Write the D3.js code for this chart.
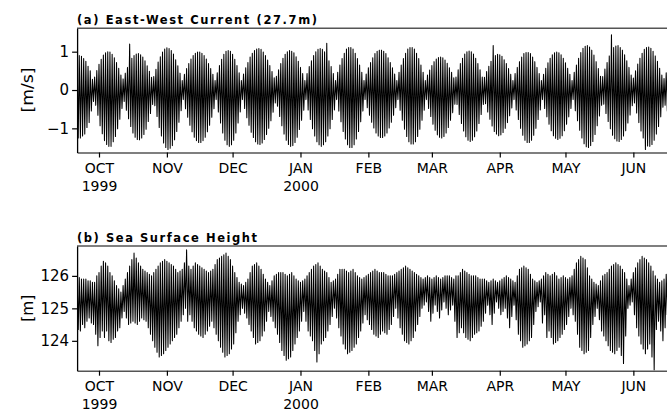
<!DOCTYPE html>
<html><head><meta charset="utf-8">
<script src="https://cdn.jsdelivr.net/npm/d3@7"></script>
<style>
html,body{margin:0;padding:0;background:#fff;}
svg{display:block;}
text{font-family:"DejaVu Sans",sans-serif;fill:#000;}
</style></head>
<body><svg id="c" width="667" height="412"></svg>
<script>
// ---- data: two tidal extremes per day, starting 21 Sep 1999 ----
// "...Main": extreme read for the day (alternating peak / trough day by day)
// "...Other": the opposite extreme of the same day
const startDay = "1999-09-21";
const endDay = "2000-06-17";
const ewMain = [
0.9,-1.25,0.88,-1.15,0.75,-0.85,0.5,-0.3,
0.34,-0.66,0.67,-1.14,0.91,-1.42,1.0,-1.47,0.93,-1.21,0.72,-0.76,0.39,
-0.30,0.44,-0.75,1.2,-1.12,0.9,-1.29,0.95,-1.25,0.86,-1.02,0.63,-0.61,0.33,
-0.41,0.54,-0.98,0.87,-1.38,1.07,-1.55,1.08,-1.45,0.94,-1.08,0.63,-0.54,
0.25,-0.49,0.56,-0.92,0.81,-1.23,0.96,-1.37,0.99,-1.32,0.90,-1.09,0.69,-0.71,0.41,
-0.25,0.45,-0.86,0.80,-1.31,1.01,-1.47,1.01,-1.31,0.80,-0.86,0.45,
-0.25,0.42,-0.72,0.72,-1.10,0.96,-1.35,1.07,-1.42,1.06,-1.29,0.90,-1.0,0.64,-0.58,0.32,
-0.42,0.53,-0.93,0.83,-1.31,1.0,-1.47,1.01,-1.37,0.87,-1.03,0.59,-0.53,
0.25,-0.52,0.61,-1.01,0.90,-1.35,1.06,-1.47,1.06,-1.35,1.22,-1.01,0.61,-0.52,
0.25,-0.55,0.65,-1.08,0.96,-1.43,1.11,-1.50,1.07,-1.28,0.82,-0.83,0.46,
-0.25,0.42,-0.66,0.72,-0.99,0.95,-1.20,1.04,-1.24,1.01,-1.12,0.84,-0.84,0.58,-0.46,
0.25,-0.53,0.65,-1.02,0.96,-1.35,1.11,-1.41,1.07,-1.21,0.82,-0.79,0.46,
-0.25,0.39,-0.69,0.64,-1.05,0.81,-1.23,0.86,-1.21,0.78,-0.98,0.58,-0.59,0.32,
-0.38,0.53,-0.87,0.83,-1.22,1.0,-1.34,1.0,-1.22,0.83,-0.87,0.53,-0.38,
0.33,-0.57,0.62,-0.94,1.16,-1.15,0.93,-1.17,0.88,-1.0,0.69,-0.67,0.41,
-0.25,0.43,-0.77,0.74,-1.18,0.95,-1.37,0.98,-1.31,0.86,-1.0,0.59,-0.52,
0.25,-0.48,0.57,-0.89,0.83,-1.19,0.97,-1.29,0.97,-1.19,0.83,-0.89,0.57,-0.48,
0.25,-0.54,0.65,-1.05,0.98,-1.40,1.14,-1.50,1.12,-1.34,0.91,-0.93,0.56,-0.40,
0.35,-0.61,0.72,-1.01,1.44,-1.27,1.15,-1.34,1.11,-1.20,0.92,-0.86,0.59,-0.41,
0.31,-0.60,0.68,-1.07,0.96,-1.55,1.11,-1.47,1.09,-1.31,0.89,-0.95,0.57,-0.45,
0.3,-0.55,0.6,-0.9];
const ewOther = [
-1.25,0.9,-1.2,0.82,-0.98,0.62,-0.55,0.28,
-0.40,0.51,-0.93,0.80,-1.32,0.97,-1.47,0.99,-1.35,0.84,-1.01,0.57,-0.48,
0.29,-0.53,0.59,-0.95,0.83,-1.23,0.94,-1.30,0.92,-1.16,0.76,-0.82,0.49,-0.38,
0.35,-0.69,0.73,-1.20,0.99,-1.50,1.10,-1.52,1.03,-1.30,0.79,-0.84,0.44,
-0.25,0.41,-0.71,0.69,-1.09,0.90,-1.32,0.99,-1.37,0.96,-1.23,0.81,-0.92,0.56,-0.49,
0.25,-0.57,0.64,-1.12,0.93,-1.43,1.03,-1.43,0.93,-1.12,0.64,-0.57,
0.25,-0.48,0.58,-0.92,0.86,-1.24,1.03,-1.41,1.08,-1.38,0.99,-1.16,0.78,-0.80,0.48,-0.34,
0.36,-0.69,0.69,-1.15,0.93,-1.42,1.03,-1.45,0.97,-1.23,0.75,-0.79,0.43,
-0.25,0.43,-0.77,0.76,-1.20,1.0,-1.43,1.08,-1.43,1.0,-1.20,0.76,-0.77,0.43,
-0.25,0.46,-0.83,0.82,-1.28,1.07,-1.50,1.11,-1.43,0.96,-1.08,0.65,-0.55,
0.25,-0.46,0.58,-0.84,0.84,-1.12,1.01,-1.24,1.04,-1.20,0.95,-0.99,0.72,-0.66,0.42,
-0.25,0.46,-0.79,0.82,-1.21,1.07,-1.41,1.11,-1.35,0.96,-1.02,0.65,-0.53,
0.25,-0.48,0.52,-0.89,0.74,-1.17,0.85,-1.25,0.84,-1.12,0.70,-0.79,0.46,-0.37,
0.34,-0.64,0.69,-1.07,0.94,-1.31,1.02,-1.31,0.94,-1.07,0.69,-0.64,0.34,
-0.36,0.48,-0.76,0.75,-1.08,0.90,-1.19,0.92,-1.11,0.79,-0.85,0.56,-0.47,
0.25,-0.52,0.59,-1.0,0.86,-1.31,0.98,-1.37,0.95,-1.18,0.74,-0.77,0.43,
-0.25,0.41,-0.70,0.71,-1.06,0.92,-1.26,0.99,-1.26,0.92,-1.06,0.71,-0.70,0.41,
-0.25,0.46,-0.80,0.83,-1.25,1.09,-1.48,1.16,-1.45,1.04,-1.16,0.74,-0.68,0.36,
-0.37,0.55,-0.82,0.89,-1.18,1.11,-1.33,1.16,-1.29,1.04,-1.06,0.76,-0.65,0.39,
-0.34,0.50,-0.85,0.83,-1.25,1.06,-1.46,1.12,-1.42,1.01,-1.15,0.75,-0.70,0.39,
-0.4,0.45,-0.75,0.8];
const sshMain = [
126.0,124.3,125.9,124.4,125.9,124.7,125.85,124.5,125.8,
123.85,126.1,124.3,126.45,124.3,
126.3,123.95,126.0,124.1,125.7,124.4,125.5,124.9,
125.9,124.5,126.3,124.6,126.7,124.5,126.4,124.7,126.2,124.6,126.1,
124.2,126.0,123.8,
126.2,123.5,126.4,123.6,126.5,123.8,126.4,124.0,126.3,124.2,126.1,
124.6,126.2,125.0,126.8,124.8,126.2,
124.4,126.4,124.2,126.3,124.1,126.2,124.3,126.1,124.6,126.2,
124.2,126.5,123.8,126.6,123.5,126.7,123.6,126.5,123.9,
126.1,124.6,125.8,125.0,125.7,124.7,125.9,
124.3,126.3,123.9,126.4,124.0,126.2,124.3,
125.9,124.9,125.7,124.6,
126.0,124.2,126.1,123.7,126.1,123.4,126.0,123.5,126.1,123.9,125.9,124.3,
125.8,124.9,125.9,
124.3,126.1,124.0,126.3,123.35,126.4,123.9,126.2,124.1,126.1,124.5,
125.8,125.0,125.9,
124.4,126.2,123.9,126.2,123.6,126.1,123.7,126.2,123.9,126.0,124.3,
125.9,124.8,126.0,
124.5,126.1,124.2,126.2,124.1,126.1,124.3,126.1,124.2,126.0,124.5,
126.0,125.0,126.1,
124.4,126.2,124.0,126.3,123.9,126.2,124.1,126.1,
124.5,126.0,125.0,125.9,125.2,126.0,124.6,125.9,125.1,126.0,124.7,125.9,125.2,126.0,124.8,
126.0,125.1,125.9,124.1,126.0,
124.4,126.2,124.1,126.1,124.0,126.0,124.2,126.0,124.3,125.9,124.6,
125.9,125.1,125.8,124.5,125.9,125.2,125.8,124.8,125.9,125.0,126.0,124.4,125.9,125.1,125.8,
124.2,126.2,123.8,126.3,123.9,126.2,124.1,
125.9,124.9,125.8,125.2,125.9,124.8,
126.1,124.3,126.0,123.9,126.1,124.0,125.9,124.2,126.0,124.5,
125.9,125.0,126.0,124.6,
126.4,123.8,126.6,123.6,126.5,123.7,
126.0,124.5,125.8,125.0,125.7,
124.3,126.0,124.0,126.1,123.7,126.3,123.6,126.4,123.8,126.3,123.3,126.1,
125.0,125.7,125.2,
126.1,124.4,126.4,123.9,126.6,123.6,126.5,123.9,126.3,123.1,
126.0,124.6,125.8,124.0,125.9,124.8,126.2,124.5];
const sshOther = [
124.35,125.95,124.5,125.9,124.6,125.85,124.55,125.8,124.2,
126.0,124.1,126.3,124.1,126.4,
124.0,126.1,124.05,125.85,124.3,125.6,124.7,125.7,
124.7,126.1,124.55,126.5,124.55,126.55,124.6,126.3,124.65,126.15,124.4,
126.05,124.0,126.1,
123.65,126.3,123.55,126.45,123.7,126.45,123.9,126.35,124.1,126.2,124.4,
126.15,124.8,126.4,124.6,126.3,124.6,
126.3,124.3,126.35,124.15,126.25,124.2,126.15,124.45,126.15,124.4,
126.35,124.0,126.55,123.65,126.65,123.55,126.6,123.75,126.3,
124.25,125.95,124.8,125.75,124.85,125.8,124.5,
126.1,124.1,126.35,123.95,126.3,124.15,126.05,
124.6,125.8,124.75,125.85,
124.4,126.05,123.95,126.1,123.55,126.05,123.45,126.05,123.7,126.0,124.1,125.85,
124.6,125.85,124.6,
126.0,124.15,126.2,123.7,126.35,123.6,126.3,124.0,126.15,124.3,125.95,
124.75,125.85,124.7,
126.05,124.15,126.2,123.75,126.15,123.65,126.15,123.8,126.1,124.1,125.95,
124.55,125.95,124.65,
126.05,124.35,126.15,124.15,126.15,124.2,126.1,124.25,126.05,124.35,126.0,
124.75,126.05,124.7,
126.15,124.2,126.25,123.95,126.25,124.0,126.15,124.3,
126.05,124.75,125.95,125.1,125.95,124.9,125.95,124.85,125.95,124.9,125.95,124.95,125.95,125.0,126.0,
124.95,125.95,124.6,126.0,124.25,
126.1,124.25,126.15,124.05,126.05,124.1,126.0,124.25,125.95,124.45,125.9,
124.85,125.85,124.8,125.85,124.85,125.85,125.0,125.85,124.9,125.95,124.7,125.95,124.75,125.85,124.65,
126.0,124.0,126.25,123.85,126.25,124.0,126.05,
124.5,125.85,125.05,125.85,124.55,126.0,
124.1,126.05,124.1,126.05,123.95,126.0,124.1,125.95,124.35,125.95,
124.75,125.95,124.8,126.2,
124.2,126.5,123.7,126.55,123.65,126.25,
124.1,125.9,124.75,125.75,124.65,
125.85,124.15,126.05,123.85,126.2,123.65,126.35,123.7,126.35,123.55,126.2,124.15,
125.9,125.1,125.9,
124.8,126.25,124.15,126.5,123.75,126.55,123.75,126.4,123.5,126.15,
124.35,125.9,124.3,125.85,124.4,126.05,124.65,126.1];
const monthTicks = ["1999-10-01","1999-11-01","1999-12-01","2000-01-01","2000-02-01","2000-03-01","2000-04-01","2000-05-01","2000-06-01"];
const monthLabels = ["OCT","NOV","DEC","JAN","FEB","MAR","APR","MAY","JUN"];
const yearLabels = ["1999","","","2000","","","","",""];
const ticksA = [-1,0,1];
const ticksB = [124,125,126];
const titles = ["(a) East-West Current (27.7m)","(b) Sea Surface Height"];
const units = ["[m/s]","[m]"];

// ---- drawing ----
const svg = d3.select("#c");
const parse = d3.utcParse("%Y-%m-%d");
const t0 = parse(startDay);
const x = d3.scaleUtc().domain([t0, parse(endDay)]).range([77.1, 668.4]);
const dayAt = (i, frac) => new Date(t0.getTime() + (i + frac) * 864e5);

// merge the two daily extremes: high first, low half a day later
function series(main, other) {
  const pts = [];
  main.forEach((v, i) => {
    const w = other[i];
    pts.push({t: dayAt(i, 0), v: Math.max(v, w)});
    pts.push({t: dayAt(i, 0.5), v: Math.min(v, w)});
  });
  return pts;
}

const panels = [
  {data: series(ewMain, ewOther), domain:[-1.63,1.61], top:28.3, bottom:152.5, ticks:ticksA,
   fmt: v => v<0 ? "\u2212"+Math.abs(v) : String(v), title:titles[0], unit:units[0], unitLen:45, tlen:240},
  {data: series(sshMain, sshOther), domain:[123.08,126.92], top:246, bottom:370.7, ticks:ticksB,
   fmt: v => String(v), title:titles[1], unit:units[1], unitLen:27, tlen:180}
];

panels.forEach((p, k) => {
  const y = d3.scaleLinear().domain(p.domain).range([p.bottom, p.top]);
  const g = svg.append("g");
  const clipId = "clip"+k;
  svg.append("clipPath").attr("id", clipId).append("rect")
    .attr("x", 77).attr("y", p.top).attr("width", 600).attr("height", p.bottom - p.top);

  const line = d3.line().x(d => x(d.t)).y(d => y(d.v));
  g.append("path").datum(p.data).attr("clip-path", `url(#${clipId})`)
    .attr("d", line).attr("fill","none").attr("stroke","#000")
    .attr("stroke-width", 1.05).attr("stroke-linejoin","round");

  g.append("line").attr("x1",77).attr("x2",668).attr("y1",p.top).attr("y2",p.top)
    .attr("stroke","#555").attr("stroke-width",1.6);

  const xa = d3.axisBottom(x).tickValues(monthTicks.map(parse)).tickSize(5).tickSizeOuter(0).tickFormat("");
  const gx = g.append("g").attr("transform",`translate(0,${p.bottom})`).call(xa);
  gx.select(".domain").attr("stroke","#555").attr("stroke-width",1.6);
  gx.selectAll(".tick line").attr("stroke","#000").attr("stroke-width",1.2);
  gx.selectAll(".tick").each(function(d,i){
    const t = d3.select(this).append("text").attr("text-anchor","middle")
      .style("font-size","14px");
    t.append("tspan").attr("x",0).attr("y",20.5).text(monthLabels[i]);
    if (yearLabels[i]) t.append("tspan").attr("x",0).attr("y",38.5).text(yearLabels[i]);
  });

  const ya = d3.axisLeft(y).tickValues(p.ticks).tickSize(5).tickSizeOuter(0).tickPadding(3).tickFormat(p.fmt);
  const gy = g.append("g").attr("transform","translate(77.1,0)").call(ya);
  gy.select(".domain").attr("stroke","#000").attr("stroke-width",1.3);
  gy.selectAll(".tick line").attr("stroke","#000").attr("stroke-width",1.2);
  gy.selectAll(".tick text").style("font-size","15px").attr("fill","#000")
    .attr("font-family","DejaVu Sans");

  g.append("text").attr("x",77).attr("y",p.top-4.5)
    .attr("textLength", p.tlen).attr("lengthAdjust","spacing")
    .style("font-size","11.5px").style("font-weight","bold").text(p.title);

  const ym = k===0 ? y(0) : y(125);
  g.append("text").attr("transform",`translate(33,${ym}) rotate(-90)`)
    .attr("text-anchor","middle").attr("textLength",p.unitLen).attr("lengthAdjust","spacingAndGlyphs")
    .style("font-size","16px").text(p.unit);
});
</script></body></html>
